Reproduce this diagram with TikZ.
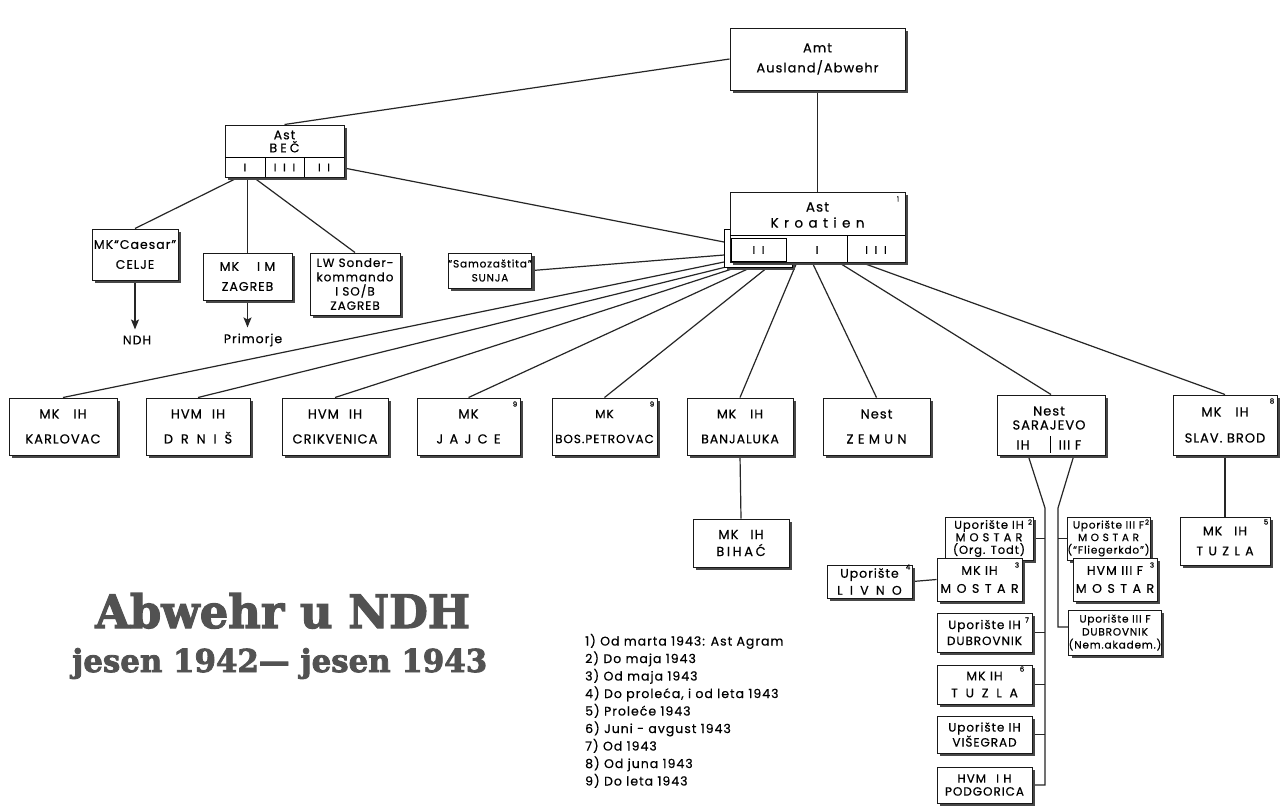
\documentclass[tikz,border=0pt]{standalone}
\usepackage{graphicx}
\usepackage{fontspec}
\setmainfont{Poppins}[LetterSpace=8, FakeBold=0.5]
\newfontfamily\titlefont{DejaVu Serif}[FakeBold=2.5]
\usetikzlibrary{shadows,arrows.meta,calc,backgrounds}
\newcommand\ls[2]{{\addfontfeatures{LetterSpace=#1}#2}}
\newcommand\bxf[2]{\fontsize{#1}{#2}\selectfont}
\tikzset{
  box/.style={draw=black!90, line width=1pt, fill=white, inner sep=0pt, align=center,
     drop shadow={shadow xshift=3pt, shadow yshift=-3pt, fill=black!72, opacity=1}},
  lbl/.style={inner sep=0pt, align=center},
  conn/.style={line width=1.2pt, draw=black!85},
  supnum/.style={inner sep=0pt, font=\bxf{7}{8}},
  fn/.style={inner sep=0pt, anchor=base west, font=\bxf{12.5}{15}},
  arr/.style={conn, -{Stealth[length=10pt,width=8pt,inset=2pt]}},
}
\begin{document}
\begin{tikzpicture}[x=1pt,y=-1pt]
\useasboundingbox (0,0) rectangle (1282,807);

% ---- top
\node[box, minimum width=175, minimum height=62, font={\bxf{13}{20}}] (amt) at (817.5,59) {Amt\\Ausland/Abwehr};

% ---- Ast Bec
\node[box, minimum width=119, minimum height=52] (bec) at (284.5,151) {};
\node[lbl, font={\bxf{12.5}{13}}] (bect) at (284.5,141.5) {Ast\\\ls{25}{BEČ}};
\draw[line width=0.9pt] (225,157) -- (344,157) (265,157) -- (265,177) (304,157) -- (304,177);
\node[lbl, font={\bxf{11}{12}}] (bec1) at (245,167.5) {I};
\node[lbl, font={\bxf{11}{12}}] (bec3) at (284.5,167.5) {\ls{60}{III}};
\node[lbl, font={\bxf{11}{12}}] (bec2) at (324,167.5) {\ls{60}{II}};

% ---- Ast Kroatien
\draw[line width=1pt, fill=white, drop shadow={shadow xshift=3pt, shadow yshift=-3pt, fill=black!72, opacity=1}] (724,229) rectangle (792,267);
\node[box, minimum width=175, minimum height=70] (kro) at (817.5,227) {};
\node[lbl, font={\bxf{13.5}{16}}] (krot) at (817.5,215) {Ast\\\ls{40}{Kroatien}};
\draw[line width=0.9pt] (730,235) -- (905,235) (847,235) -- (847,262);
\draw[line width=1pt] (731,238) rectangle (786,261);
\node[lbl, font={\bxf{11}{12}}] (kro2) at (758.5,250) {\ls{60}{II}};
\node[lbl, font={\bxf{11}{12}}] (kro1) at (817,250) {I};
\node[lbl, font={\bxf{11}{12}}] (kro3) at (876,250) {\ls{60}{III}};
\node[supnum] (s1) at (898,199) {1};

% ---- left group
\node[box, minimum width=86, minimum height=51, font={\bxf{12.5}{20}}] (caesar) at (135,254.5) {MK“Caesar”\\CELJE};
\node[lbl, inner sep=6pt, font={\bxf{12.5}{14}}] (ndh) at (137,340) {NDH};
\node[box, minimum width=89, minimum height=47, font={\bxf{12.5}{20}}] (zim) at (247.5,276.5) {MK\hspace{18pt}I M\\ZAGREB};
\node[lbl, inner sep=6pt, font={\bxf{12.5}{14}}] (prim) at (253,340) {Primorje};
\node[box, minimum width=90, minimum height=62, font={\bxf{12}{14.3}}] (lw) at (355,284) {LW Sonder-\\kommando\\I SO/B\\ZAGREB};
\node[box, minimum width=80, minimum height=35, font={\bxf{10.5}{14}}] (samo) at (490,270.5) {“Samozaštita”\\SUNJA};

% ---- bottom row
\node[box, minimum width=108, minimum height=57, font={\bxf{13}{25}}] (karl) at (63,426.5) {MK\hspace{14pt}IH\\KARLOVAC};
\node[box, minimum width=104, minimum height=57, font={\bxf{13}{25}}] (drnis) at (198,426.5) {HVM\hspace{10pt}IH\\\ls{60}{DRNIŠ}};
\node[box, minimum width=106, minimum height=57, font={\bxf{13}{25}}] (crik) at (335,426.5) {HVM\hspace{10pt}IH\\CRIKVENICA};
\node[box, minimum width=103, minimum height=57, font={\bxf{13}{25}}] (jajce) at (468.5,426.5) {MK\\\ls{48}{JAJCE}};
\node[box, minimum width=105, minimum height=57, font={\bxf{12}{25}}] (bosp) at (604.5,426.5) {MK\\BOS.PETROVAC};
\node[box, minimum width=106, minimum height=57, font={\bxf{12.5}{25}}] (banja) at (740,426.5) {MK\hspace{14pt}IH\\BANJALUKA};
\node[box, minimum width=107, minimum height=57, font={\bxf{13}{25}}] (zemun) at (876.5,426.5) {Nest\\\ls{33}{ZEMUN}};
\node[box, minimum width=108, minimum height=60] (sara) at (1051,425) {};
\node[lbl, font={\bxf{13}{14}}] (sarat) at (1049,418) {Nest\\SARAJEVO};
\node[lbl, font={\bxf{13}{14}}] (saraih) at (1023,445) {IH};
\node[lbl, font={\bxf{13}{14}}] (saraiiif) at (1070,445) {III F};
\draw[line width=1pt] (1050,436) -- (1050,453);
\node[box, minimum width=104, minimum height=60, font={\bxf{13}{26}}] (slav) at (1225,425) {MK\hspace{14pt}IH\\SLAV. BROD};
\node[supnum] (s9a) at (515,404) {9};
\node[supnum] (s9b) at (652,404) {9};
\node[supnum] (s8) at (1272,401) {8};

% ---- lower
\node[box, minimum width=96, minimum height=48, font={\bxf{13}{17}}] (bihac) at (741,543) {MK\hspace{12pt}IH\\\ls{20}{BIHAĆ}};
\node[box, minimum width=85, minimum height=33, font={\bxf{12.5}{17}}] (livno) at (869.5,581.5) {Uporište\\\ls{58}{LIVNO}};
\node[box, minimum width=88, minimum height=43, font={\bxf{11.5}{12.5}}] (todt) at (989,538.5) {Uporište IH\\\ls{35}{MOSTAR}\\(Org. Todt)};
\node[box, minimum width=85, minimum height=43, font={\bxf{12.5}{18}}] (mkmostar) at (979.5,579.5) {MK IH\\\ls{44}{MOSTAR}};
\node[box, minimum width=95, minimum height=39, font={\bxf{12}{16}}] (dubih) at (984.5,632.5) {Uporište IH\\DUBROVNIK};
\node[box, minimum width=95, minimum height=39, font={\bxf{12.5}{17}}] (tuzla1) at (984.5,684.5) {MK IH\\\ls{62}{TUZLA}};
\node[box, minimum width=95, minimum height=37, font={\bxf{12}{15}}] (visegrad) at (984.5,734.5) {Uporište IH\\VIŠEGRAD};
\node[box, minimum width=95, minimum height=36, font={\bxf{12}{13}}] (podg) at (984.5,785) {HVM\hspace{10pt}I H\\PODGORICA};
\node[box, minimum width=83, minimum height=43, font={\bxf{10.5}{12.5}}] (flieg) at (1108.5,538.5) {Uporište III F\\\ls{35}{MOSTAR}\\(“Fliegerkdo”)};
\node[box, minimum width=84, minimum height=43, font={\bxf{12.5}{18}}] (hvmmostar) at (1115,579.5) {HVM III F\\\ls{44}{MOSTAR}};
\node[box, minimum width=84, minimum height=45, font={\bxf{10.5}{13}}] (dubiiif) at (1115,632.5) {Uporište III F\\DUBROVNIK\\(Nem.akadem.)};
\node[box, minimum width=90, minimum height=48, font={\bxf{12.5}{20}}] (tuzla2) at (1225,541) {MK\hspace{12pt}IH\\\ls{43}{TUZLA}};
\node[supnum] (s2a) at (1030,522) {2};
\node[supnum] (s3a) at (1017,565) {3};
\node[supnum] (s4) at (908,567) {4};
\node[supnum] (s7) at (1027,620) {7};
\node[supnum] (s6) at (1022,669) {6};
\node[supnum] (s2b) at (1147,522) {2};
\node[supnum] (s3b) at (1152,565) {3};
\node[supnum] (s5) at (1266,522) {5};

% ---- title
\node[inner sep=0pt, anchor=base west, text=black!68] (title1) at (95,628) {\resizebox{375pt}{35pt}{\titlefont\bfseries Abwehr u NDH}};
\node[inner sep=0pt, anchor=base west, text=black!68] (title2) at (72,672) {\resizebox{415pt}{24pt}{\titlefont\bfseries jesen 1942— jesen 1943}};

% ---- footnotes
\node[fn] (fn1) at (585,645.5) {1) Od marta 1943: Ast Agram};
\node[fn] (fn2) at (585,663) {2) Do maja 1943};
\node[fn] (fn3) at (585,680.5) {3) Od maja 1943};
\node[fn] (fn4) at (585,698) {4) Do proleća, i od leta 1943};
\node[fn] (fn5) at (585,715.5) {5) Proleće 1943};
\node[fn] (fn6) at (585,733) {6) Juni - avgust 1943};
\node[fn] (fn7) at (585,750.5) {7) Od 1943};
\node[fn] (fn8) at (585,768) {8) Od juna 1943};
\node[fn] (fn9) at (585,785.5) {9) Do leta 1943};

% ---- connector anchors
\coordinate (becR) at (344,168);
\coordinate (bl1) at (239,177);
\coordinate (bl2) at (247.5,177);
\coordinate (bl3) at (253,177);
\coordinate (kb) at (724,242);
\coordinate (ks) at (724,255);
\coordinate (kf1) at (724,262);
\coordinate (kf2) at (726,267);
\coordinate (kf3) at (738,267);
\coordinate (kf4) at (752,267);
\coordinate (kf5) at (768,267);
\coordinate (kf6) at (797,262);
\coordinate (kf7) at (812,262);
\coordinate (kf8) at (838,262);
\coordinate (kf9) at (860,262);
\coordinate (sl1) at (1028,455);
\coordinate (sl2) at (1045,508);
\coordinate (sr1) at (1074,455);
\coordinate (sr2) at (1058,508);
\coordinate (sr3) at (1058,627);

\begin{pgfonlayer}{background}
\fill[white] (0,0) rectangle (1282,807);
\draw[conn] (bec.north) -- (amt.west);
\draw[conn] (amt.south) -- (kro.north);
\draw[conn] (becR) -- (kb);
\draw[conn] (samo.east) -- (ks);
\draw[conn] (bl1) -- (caesar.north);
\draw[conn] (bl2) -- (zim.north);
\draw[conn] (bl3) -- (lw.north);
\draw[arr] (caesar.south) -- (caesar.south |- ndh.north);
\draw[arr] (zim.south) -- (zim.south |- prim.north);
\foreach \k/\n in {kf1/karl, kf2/drnis, kf3/crik, kf4/jajce, kf5/bosp, kf6/banja, kf7/zemun, kf8/sara, kf9/slav}
  \draw[conn] (\k) -- (\n.north);
\draw[conn] (banja.south) -- (bihac.north);
\draw[conn] (slav.south) -- (tuzla2.north);
\draw[conn] (sl1) -- (sl2) -- (sl2 |- podg.east) -- (podg.east);
\draw[conn] (todt.east) -- (todt.east -| sl2);
\draw[conn] (dubih.east) -- (dubih.east -| sl2);
\draw[conn] (tuzla1.east) -- (tuzla1.east -| sl2);
\draw[conn] (visegrad.east) -- (visegrad.east -| sl2);
\draw[conn] (livno.east) -- (mkmostar.west);
\draw[conn] (sr1) -- (sr2) -- (sr3) -- (sr3 -| dubiiif.west);
\draw[conn] (flieg.west -| sr2) -- (flieg.west);
\end{pgfonlayer}
\end{tikzpicture}
\end{document}
